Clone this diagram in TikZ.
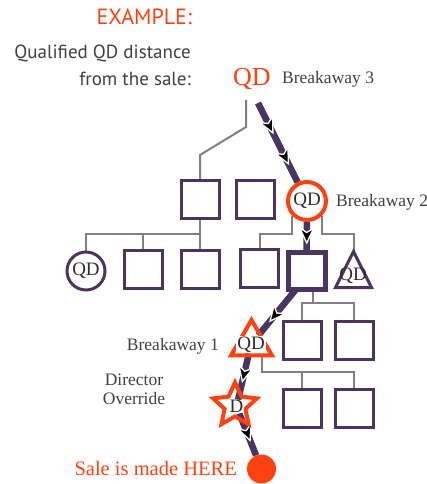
\documentclass[tikz,border=0pt]{standalone}
\usepackage{fontspec}
\setmainfont{Liberation Serif}
\newfontfamily\labsans{PT Sans}
\usetikzlibrary{shapes.geometric,decorations.markings,backgrounds}
\definecolor{qred}{RGB}{255,64,16}
\definecolor{qpurple}{RGB}{74,52,96}
\definecolor{qgray}{RGB}{128,128,128}
\definecolor{qtext}{RGB}{64,64,64}
\begin{document}
\begin{tikzpicture}[x=1pt,y=-1pt,
  box/.style={draw=qpurple, line width=3pt, fill=white, minimum size=38pt, inner sep=0pt, outer sep=0pt},
  lab/.style={text=qtext, font=\fontsize{17.5}{19}\selectfont, inner sep=0pt},
  qdt/.style={text=qtext!70!black, font=\fontsize{19}{21}\selectfont, inner sep=1pt},
  sanslab/.style={font=\labsans\fontsize{19}{22}\selectfont, text=qtext, inner sep=0pt},
  gl/.style={draw=qgray, line width=2pt},
  pline/.style={draw=qpurple, line width=6.5pt},
  amark/.style={postaction={decorate,decoration={markings,mark=at position #1 with {\filldraw[fill=black,draw=white,line width=1.3pt] (6pt,0pt) -- (-9pt,7pt) -- (-4.5pt,0pt) -- (-9pt,-7pt) -- cycle;}}}}
]
\useasboundingbox (0,0) rectangle (427,484);

% header texts
\node[sanslab, text=qred, font=\labsans\fontsize{22}{24}\selectfont, anchor=base east] (ex) at (192,25) {EXAMPLE:};
\node[sanslab, anchor=base east] (q1) at (191,59) {Qualified QD distance};
\node[sanslab, anchor=base east] (q2) at (191,86) {from the sale:};

% top QD
\node[text=qred, font=\fontsize{26}{28}\selectfont, inner sep=0pt, anchor=base] (top) at (252,86) {QD};
\node[lab, anchor=base west] (br3) at (282,83.5) {Breakaway 3};
\coordinate (topG) at (246,100);
\coordinate (topP) at (258,103);

% row 1
\node[box] (b1) at (200,199.5) {};
\node[box] (b2) at (255.5,199.5) {};
\node[qdt, circle, draw=qred, line width=4pt, fill=white, minimum size=38pt, inner sep=0pt] (B2) at (307,201) {QD};
\node[lab, anchor=base west] (br2) at (336,206) {Breakaway 2};

% row 2
\node[qdt, circle, draw=qpurple, line width=3pt, fill=white, minimum size=38pt, inner sep=0pt] (pc) at (86,271) {QD};
\node[box] (b3) at (143,269.5) {};
\node[box] (b4) at (200,269.5) {};
\node[box] (b5) at (259.5,268.5) {};
\node[box, line width=5pt, minimum size=37pt] (tbox) at (306.5,270.5) {};
\node[isosceles triangle, shape border rotate=90, isosceles triangle stretches, minimum width=36pt, minimum height=36pt, inner sep=0pt, outer sep=0pt, draw=qpurple, line width=3pt, anchor=apex] (pt) at (353.5,251.5) {};
\node[qdt] (ptt) at (353,275.5) {QD};

% row 3
\node[box] (b6) at (302,340) {};
\node[box] (b7) at (354,340) {};
\node[regular polygon, regular polygon sides=3, minimum size=47pt, inner sep=0pt, outer sep=0pt, draw=qred, line width=4pt] (t1) at (251.5,343.5) {};
\node[qdt, fill=white] (t1t) at (251,344.5) {QD};
\node[lab, anchor=base east] (br1) at (219,350) {Breakaway 1};

% row 4
\node[box] (b8) at (302,408.5) {};
\node[box] (b9) at (354,408.5) {};
\node[star, star points=5, star point ratio=2.1, minimum size=46pt, inner sep=0pt, outer sep=0pt, draw=qred, line width=4pt] (st) at (235,405.5) {};
\node[qdt, fill=white, inner sep=0.5pt] (d) at (236.5,406.5) {D};
\node[lab, align=center, anchor=base] (dir) at (134,404) {Director\\Override};

% sale
\node[circle, fill=qred, minimum size=29pt, inner sep=0pt] (sale) at (261.5,469) {};
\node[text=qred, font=\fontsize{20.5}{22}\selectfont, inner sep=0pt, anchor=base east] (saletxt) at (237,475) {Sale is made HERE};

\begin{scope}[on background layer]
% gray tree
\draw[gl] (topG) -- ++(0,27) -- (b1.north |- 0,155) -- (b1.north);
\draw[gl] (b1.south) -- (b4.north);
\draw[gl] (pc.north) |- (b1.south |- 0,234);
\draw[gl] (b3.north) -- (b3.north |- 0,234);
\draw[gl] (B2.-135) |- (b5.north |- 0,234) -- (b5.north);
\draw[gl] (B2.-45) |- (pt.apex |- 0,234) -- (pt.apex);
\draw[gl] ([xshift=6.5pt]tbox.south) -- ([xshift=6.5pt]tbox.south |- 0,303);
\draw[gl] (b6.north) |- (b7.north |- 0,303) -- (b7.north);
\draw[gl] ([xshift=10pt]t1.south) -- ([xshift=10pt]t1.south |- 0,372) -- (b9.north |- 0,372) -- (b9.north);
\draw[gl] (b8.north) -- (b8.north |- 0,372);
% purple path
\draw[pline, amark=0.31, amark=0.70] (topP) -- (B2);
\draw[pline, amark=0.50] (B2) -- (tbox);
\draw[pline, amark=0.59] (tbox.-119) -- (t1t);
\draw[pline, amark=0.48] (t1t) -- (d);
\draw[pline, amark=0.51] (d) -- (sale);
\end{scope}
\end{tikzpicture}
\end{document}
